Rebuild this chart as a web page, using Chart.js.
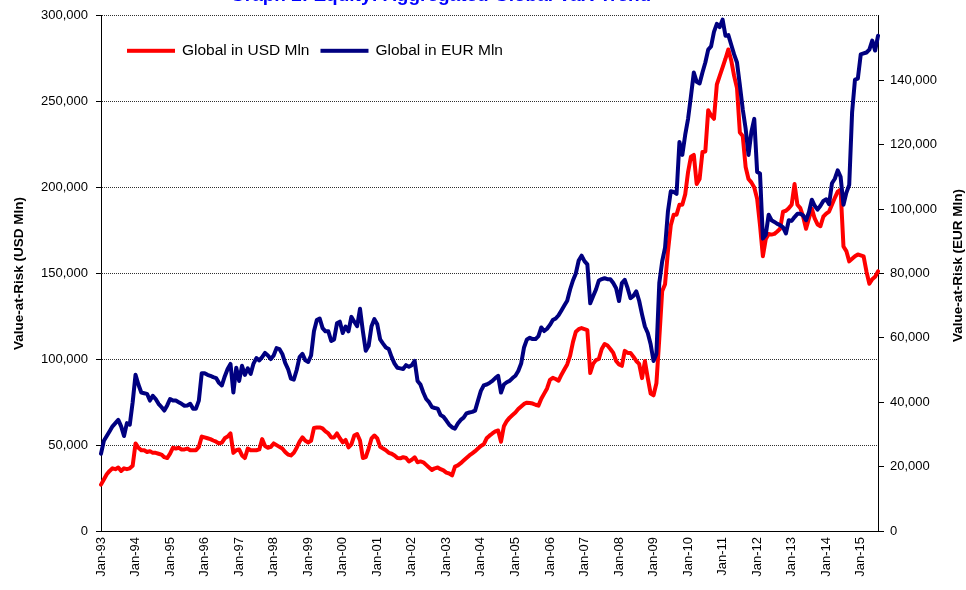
<!DOCTYPE html>
<html>
<head>
<meta charset="utf-8">
<title>Equity: Aggregated Global VaR</title>
<script src="https://cdn.jsdelivr.net/npm/chart.js@4.4.0/dist/chart.umd.min.js"></script>
<style>
  html, body { margin: 0; padding: 0; background: #fff; }
  #wrap { width: 966px; height: 590px; }
</style>
</head>
<body>
<div id="wrap"><canvas id="varChart" width="966" height="590"></canvas></div>
<script>
// Series start in Jan-93, one value per month
const startYear = 1993;
const monthNames = ['Jan', 'Feb', 'Mar', 'Apr', 'May', 'Jun', 'Jul', 'Aug', 'Sep', 'Oct', 'Nov', 'Dec'];

const chartTitle = 'Graph 2: Equity: Aggregated Global VaR Trend';
const seriesNames = ['Global in USD Mln', 'Global in EUR Mln'];

// Global VaR in USD Mln (left axis)
const usdVar = [
    27000, 30000, 33000, 35000, 36500, 36000, 37000, 35000, 36500, 36000, 36500, 38000,
    51000, 48500, 47000, 47000, 46000, 46500, 45500, 45500, 45000, 44500, 43000, 42500,
    45000, 48500, 48000, 48500, 47500, 47500, 48000, 47000, 47000, 47000, 49000, 55000,
    54500, 54000, 53500, 52700, 52000, 51000, 51500, 54000, 55000, 56800, 45500, 47000,
    47500, 44000, 42500, 48000, 47000, 47000, 47000, 47500, 53500, 49500, 48500, 49000,
    51000, 50000, 49000, 48000, 46000, 44500, 44000, 45500, 48500, 52000, 54500, 52500,
    51600, 52500, 60000, 60300, 60300, 59700, 58000, 56800, 54500, 54500, 56800, 54000,
    51600, 53000, 48700, 50500, 55600, 56500, 52700, 42500, 43000, 48000, 53900, 55600,
    53900, 49000, 48000, 47000, 45500, 45000, 44000, 42500, 42300, 43000, 42500, 40500,
    41500, 42900, 40000, 40500, 40000, 38500, 37000, 35500, 36500, 37000, 36000, 35300,
    34000, 33500, 32400, 37500, 38200, 39500, 41000, 42500, 44000, 45200, 46500, 48000,
    49500, 50500, 54000, 55500, 56800, 58000, 58500, 52000, 61000, 64000, 66000, 67500,
    69000, 71000, 72500, 74000, 74700, 74500, 74200, 73500, 73000, 77000, 80000, 83000,
    88000, 89200, 88500, 87500, 91000, 94000, 97000, 102000, 110000, 116000, 117500, 118200,
    117600, 117000, 92000, 97300, 99500, 100200, 106000, 108900, 108000, 106000, 103700, 99000,
    97000, 96200, 104900, 103700, 103700, 101500, 99000, 97300, 89000, 99000, 89000, 80000,
    79000, 86000, 112000, 139600, 143700, 162800, 178000, 184200, 184200, 190000, 190000, 196000,
    209000, 218000, 219000, 202000, 205000, 220700, 221000, 245000, 242000, 240000, 260000, 265000,
    270000, 275000, 280400, 274000, 265000, 258000, 232000, 230000, 212000, 205000, 203000, 200000,
    193500, 178000, 160000, 170000, 173000, 172600, 173000, 174400, 176000, 186000, 186500, 188000,
    190000, 202000, 190000, 188000, 183000, 176000, 182000, 187700, 182000, 178500, 177500, 183000,
    184800, 186000, 190000, 194000, 197600, 198700, 165700, 163000, 157000, 158500, 160000, 161000,
    160500, 159900, 151000, 144000, 146600, 148000, 151200
];

// Global VaR in EUR Mln (right axis)
const eurVar = [
    24000, 28000, 29500, 31000, 32500, 33500, 34500, 32500, 29500, 33500, 33000, 40000,
    48500, 45500, 43000, 42800, 42600, 40500, 42000, 41000, 39500, 38500, 37400, 39000,
    41000, 40500, 40500, 40000, 39500, 38900, 39000, 39500, 38000, 38000, 40500, 49000,
    49000, 48500, 48200, 47800, 47500, 46000, 45200, 48000, 50300, 51900, 43000, 50700,
    46600, 51300, 48500, 50500, 48800, 52000, 53700, 53000, 54000, 55300, 54500, 53400,
    54500, 56800, 56500, 55000, 52200, 50300, 47300, 47000, 50000, 54000, 55000, 53000,
    52500, 54500, 62000, 65500, 66000, 63000, 62000, 62000, 59000, 59500, 64500, 65000,
    61500, 63500, 62000, 66500, 65000, 63600, 69000, 62000, 56000, 57500, 63600, 65800,
    64200, 59500, 58200, 57000, 56500, 54000, 52000, 50700, 50500, 50300, 51500, 51000,
    51500, 52800, 46600, 45500, 43000, 41000, 40000, 38500, 38200, 38000, 36000, 35500,
    34300, 33000, 32200, 31800, 33400, 34500, 35200, 36500, 36800, 37000, 37400, 40500,
    43500, 45200, 45500, 46000, 46600, 47500, 48200, 43000, 45500, 46200, 46600, 47500,
    48200, 49700, 52000, 57000, 59500, 60000, 59600, 59600, 60500, 63200, 62100, 62800,
    64000, 65500, 66000, 67000, 68500, 70000, 71500, 75000, 77800, 80000, 84000, 85500,
    83800, 82800, 70700, 72900, 75000, 77800, 78200, 78500, 78200, 78200, 77000, 75400,
    71400, 77000, 78000, 75400, 72300, 73000, 74400, 71500, 67300, 63500, 61500, 58000,
    52800, 55000, 77000, 83700, 88000, 99200, 105500, 105300, 104700, 120800, 116800, 123000,
    128000, 135000, 142400, 139500, 139000, 142400, 145500, 149500, 150500, 155000, 157500, 156500,
    158800, 153800, 154000, 151000, 148000, 145500, 138400, 131000, 125000, 116800, 123900, 128000,
    111500, 111000, 90800, 92000, 98200, 96500, 96000, 95400, 95000, 94300, 92400, 96500,
    96300, 97500, 98500, 98500, 98000, 96500, 99000, 102900, 101000, 99800, 101000, 102500,
    103000, 101500, 108000, 109400, 112000, 110000, 101300, 105000, 107500, 130000, 140200, 140500,
    148000, 148300, 148600, 149500, 152300, 149200, 153800
];

// Month labels like "Jan-93"
const months = [];
for (let i = 0; i < usdVar.length; i++) {
    const yr = startYear + Math.floor(i / 12);
    months.push(monthNames[i % 12] + '-' + String(yr % 100).padStart(2, '0'));
}

const fontFamily = 'Arial, "Liberation Sans", sans-serif';
const usdColor = '#FF0000';
const eurColor = '#000080';

const fmt = v => v.toLocaleString('en-US');

// heading (cut off at the top edge), right axis title and legend drawn on the canvas
const extraText = {
    id: 'extraText',
    afterDraw(chart) {
        const { ctx, chartArea } = chart;
        ctx.save();

        ctx.font = 'bold 19px ' + fontFamily;
        ctx.fillStyle = '#0000FF';
        ctx.textAlign = 'left';
        ctx.textBaseline = 'alphabetic';
        ctx.fillText(chartTitle, 230, 1);

        ctx.font = 'bold 13.5px ' + fontFamily;
        ctx.fillStyle = '#000';
        ctx.textAlign = 'center';
        ctx.textBaseline = 'middle';
        ctx.translate(958, (chartArea.top + chartArea.bottom) / 2 - 8);
        ctx.rotate(-Math.PI / 2);
        ctx.fillText('Value-at-Risk (EUR Mln)', 0, 0);
        ctx.setTransform(1, 0, 0, 1, 0, 0);

        ctx.font = '15.5px ' + fontFamily;
        ctx.textAlign = 'left';
        let x = chartArea.left + 26;
        const y = chartArea.top + 35;
        [usdColor, eurColor].forEach((col, i) => {
            ctx.fillStyle = col;
            ctx.fillRect(x, y - 2, 48, 4);
            ctx.fillStyle = '#000';
            ctx.fillText(seriesNames[i], x + 55, y);
            x += 55 + ctx.measureText(seriesNames[i]).width + 11;
        });
        ctx.restore();
    }
};

const ctx = document.getElementById('varChart').getContext('2d');
const varChart = new Chart(ctx, {
    type: 'line',
    data: {
        labels: months,
        datasets: [{
            label: seriesNames[0],
            data: usdVar,
            yAxisID: 'y',
            borderColor: usdColor,
            backgroundColor: usdColor,
            order: 2
        }, {
            label: seriesNames[1],
            data: eurVar,
            yAxisID: 'y1',
            borderColor: eurColor,
            backgroundColor: eurColor,
            order: 1
        }]
    },
    options: {
        responsive: false,
        animation: false,
        layout: { padding: { top: 13, left: 0, right: 0, bottom: 0 } },
        elements: {
            line: { borderWidth: 4, tension: 0, borderJoinStyle: 'round', borderCapStyle: 'round' },
            point: { radius: 0 }
        },
        plugins: {
            legend: { display: false },
            tooltip: { enabled: false },
            title: { display: false }
        },
        scales: {
            x: {
                type: 'category',
                grid: { display: false, drawTicks: false },
                border: { color: '#000', width: 1 },
                ticks: {
                    autoSkip: false,
                    maxRotation: 90,
                    minRotation: 90,
                    padding: 6,
                    color: '#000',
                    font: { family: fontFamily, size: 13 },
                    callback: function (value) {
                        const lbl = this.getLabelForValue(value);
                        return lbl.startsWith('Jan') ? lbl : null;
                    }
                },
                afterFit: s => { s.height = 59; }
            },
            y: {
                position: 'left',
                min: 0,
                max: 300000,
                ticks: {
                    stepSize: 50000,
                    padding: 8,
                    color: '#000',
                    font: { family: fontFamily, size: 13 },
                    callback: v => fmt(v)
                },
                grid: { color: '#303030', lineWidth: 1, tickLength: 5, tickColor: '#000' },
                border: { display: true, color: '#000', width: 1, dash: [1, 1] },
                title: {
                    display: true,
                    text: 'Value-at-Risk (USD Mln)',
                    color: '#000',
                    font: { family: fontFamily, size: 13.5, weight: 'bold' },
                    padding: { top: 11, bottom: 0 }
                },
                afterFit: s => { s.width = 101; }
            },
            y1: {
                position: 'right',
                min: 0,
                max: 160000,
                ticks: {
                    stepSize: 20000,
                    padding: 6,
                    color: '#000',
                    font: { family: fontFamily, size: 13 },
                    callback: v => (v >= 160000 ? null : fmt(v))
                },
                grid: { drawOnChartArea: false, tickLength: 6, tickColor: '#000' },
                border: { display: true, color: '#000', width: 1 },
                afterFit: s => { s.width = 88; }
            }
        }
    },
    plugins: [extraText]
});
</script>
</body>
</html>
